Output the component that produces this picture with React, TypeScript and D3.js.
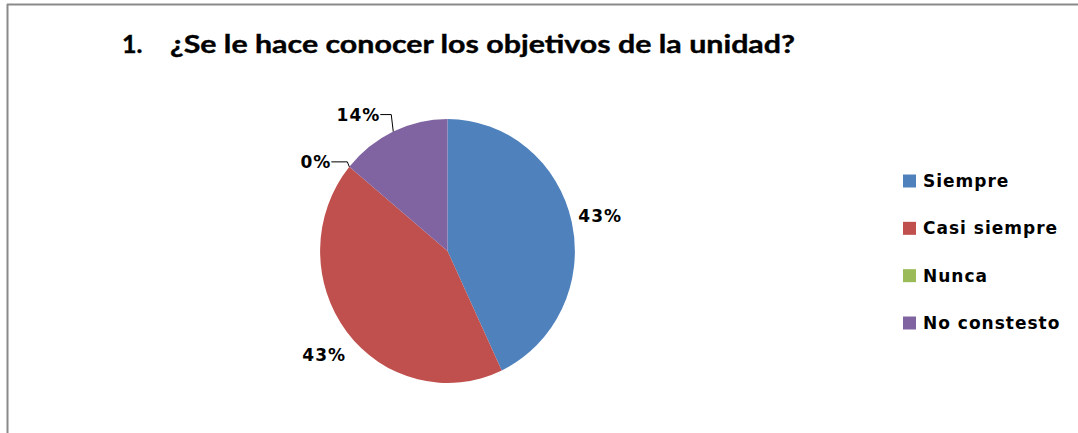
import React from "react";
import * as d3 from "d3";

const categories = ["Siempre", "Casi siempre", "Nunca", "No constesto"];
const percentValues = [43, 43, 0, 14];
const colors = ["#4F81BD", "#C0504D", "#9BBB59", "#8064A2"];
const titleNumber = "1.";
const titleText = "¿Se le hace conocer los objetivos de la unidad?";

const W = 1078;
const H = 433;
const FONT = "Lato, 'Open Sans', sans-serif";
const SMALL_FONT = "'DejaVu Sans', Verdana, sans-serif";
const LS = 1;

export default function App() {
  const cx = 447.5;
  const cy = 251;
  const r = 132;
  const sx = 0.965;

  const pie = d3.pie<number>().sort(null).value((d) => d);
  const arcs = pie(percentValues);
  const arc = d3.arc<d3.PieArcDatum<number>>().innerRadius(0).outerRadius(r);

  const pt = (angle: number, rad: number) => [
    cx + Math.sin(angle) * rad * sx,
    cy - Math.cos(angle) * rad,
  ];

  const legendY = d3.scalePoint<string>().domain(categories).range([181, 323]);

  const labels = arcs.map((a, i) => {
    const mid = (a.startAngle + a.endAngle) / 2;
    const edge = pt(mid, r);
    if (i === 0 || i === 1) {
      const p = pt(mid, r * 1.2);
      const adj = i === 1 ? [-3, 7] : [3, 0];
      return { text: `${a.data}%`, x: p[0] + adj[0] + LS / 2, y: p[1] + adj[1], anchor: "middle", leader: null as null | string };
    }
    const lift = i === 3 ? 17 : 5;
    const lx = edge[0] - (i === 3 ? 14 : 19);
    const ly = edge[1] - lift;
    const leader = `M${lx + 1},${ly} L${edge[0] - 2},${ly} L${edge[0]},${edge[1]}`;
    return { text: `${a.data}%`, x: lx + LS, y: ly, anchor: "end", leader };
  });

  return (
    <svg
      width={W}
      height={H}
      style={{ position: "absolute", left: 0, top: 0, display: "block", background: "#fff" }}
    >
      <rect x={0} y={0} width={W} height={H} fill="#fff" />
      <line x1={7} y1={4.5} x2={W} y2={4.5} stroke="#8a8a8a" strokeWidth={2} />
      <line x1={7.5} y1={4} x2={7.5} y2={H} stroke="#8a8a8a" strokeWidth={2} />

      <text x={122} y={53} fontFamily={FONT} fontWeight={700} fontSize={25} fill="#000" stroke="#000" strokeWidth={0.4}>
        {titleNumber}
      </text>
      <text
        x={170}
        y={53}
        fontFamily={FONT}
        fontWeight={700}
        fontSize={25}
        fill="#000"
        stroke="#000"
        strokeWidth={0.4}
        textLength={625}
        lengthAdjust="spacingAndGlyphs"
      >
        {titleText}
      </text>

      <g transform={`translate(${cx},${cy}) scale(${sx},1)`}>
        {arcs.map((a, i) => (
          <path key={i} d={arc(a) || ""} fill={colors[i]} />
        ))}
      </g>

      {labels.map((l, i) => (
        <g key={i}>
          {l.leader && <path d={l.leader} fill="none" stroke="#000" strokeWidth={1} />}
          <text
            x={l.x}
            y={l.y}
            textAnchor={l.anchor as any}
            dominantBaseline="central"
            fontFamily={SMALL_FONT}
            fontWeight={700}
            fontSize={17}
            letterSpacing={LS}
            fill="#000"
          >
            {l.text}
          </text>
        </g>
      ))}

      {categories.map((c, i) => {
        const y = legendY(c) as number;
        return (
          <g key={c}>
            <rect x={903} y={y - 6.5} width={13} height={13} fill={colors[i]} />
            <text
              x={923}
              y={y}
              dominantBaseline="central"
              fontFamily={SMALL_FONT}
              fontWeight={700}
              fontSize={17}
              letterSpacing={LS}
              fill="#000"
            >
              {c}
            </text>
          </g>
        );
      })}
    </svg>
  );
}
